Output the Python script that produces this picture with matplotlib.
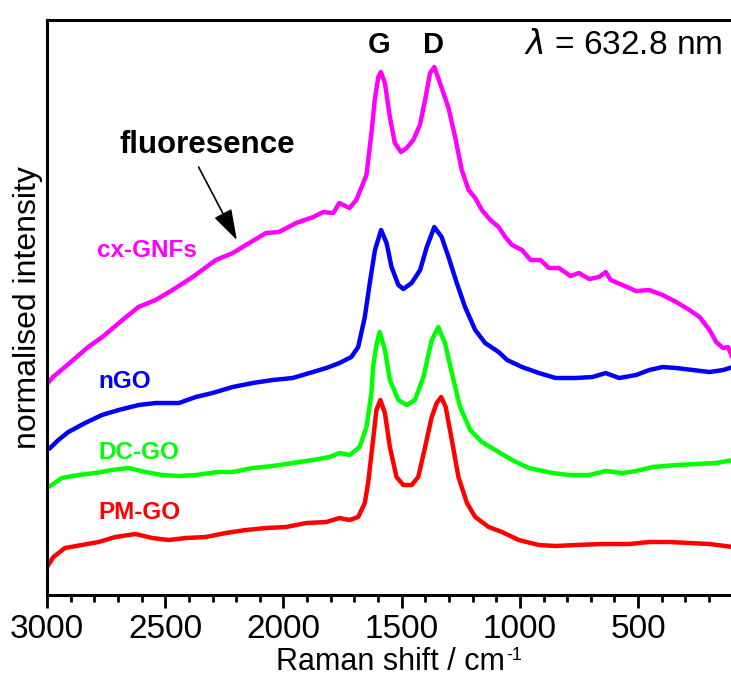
import matplotlib.pyplot as plt

plt.rcParams['font.family'] = ['Liberation Sans', 'DejaVu Sans']

# Raman spectra (wavenumber / cm-1, stacked intensity in plot units)
cx_shift = [2996, 2975, 2924, 2826, 2766, 2681, 2613, 2541, 2469, 2384, 2286, 2214,
            2159, 2074, 2019, 1947, 1874, 1832, 1789, 1764, 1721, 1692, 1649, 1628,
            1614, 1599, 1588, 1571, 1550, 1529, 1503, 1479, 1451, 1423, 1401, 1380,
            1362, 1338, 1302, 1274, 1246, 1217, 1189, 1161, 1125, 1090, 1062, 1033,
            991, 955, 913, 877, 835, 786, 750, 707, 665, 637, 616, 566, 509, 453, 396,
            339, 283, 240, 198, 170, 141, 120, 102]
cx_int = [212, 218, 228, 248, 258, 275, 288, 295, 305, 318, 335, 342,
          350, 362, 363, 372, 378, 383, 382, 392, 387, 395, 420, 462,
          495, 518, 523, 512, 478, 452, 443, 447, 455, 470, 495, 522,
          528, 512, 487, 458, 425, 405, 397, 385, 375, 368, 358, 350,
          345, 335, 335, 327, 327, 319, 322, 316, 318, 323, 315, 310, 304, 305, 300,
          293, 285, 278, 265, 253, 247, 248, 238]

ngo_shift = [2987, 2952, 2910, 2839, 2768, 2697, 2612, 2541, 2442, 2371, 2300, 2215,
             2130, 2046, 1961, 1890, 1819, 1763, 1713, 1684, 1656, 1635, 1613, 1587,
             1564, 1543, 1514, 1493, 1458, 1422, 1394, 1362, 1331, 1302, 1267, 1232,
             1189, 1147, 1090, 1054, 991, 920, 849, 764, 693, 637, 580, 509, 453, 396,
             339, 269, 198, 141, 99]
ngo_int = [147, 155, 163, 172, 180, 185, 190, 192, 192, 198, 202, 208,
           212, 215, 217, 222, 227, 232, 238, 248, 278, 312, 345, 365,
           352, 328, 310, 306, 312, 325, 348, 368, 358, 338, 312, 288,
           265, 252, 243, 235, 228, 222, 217, 217, 218, 222, 217, 220, 225, 228,
           227, 225, 223, 225, 228]

dc_shift = [3000, 2980, 2938, 2867, 2796, 2725, 2655, 2584, 2513, 2442, 2371, 2279,
            2215, 2130, 2046, 1961, 1876, 1805, 1763, 1720, 1678, 1649, 1628, 1621,
            1607, 1593, 1571, 1550, 1514, 1479, 1444, 1408, 1373, 1345, 1317, 1288,
            1253, 1210, 1161, 1090, 1033, 962, 863, 792, 707, 637, 566, 509, 438,
            339, 255, 170, 99]
dc_int = [107, 110, 117, 120, 122, 125, 127, 123, 120, 119, 120, 123,
          123, 127, 129, 132, 135, 138, 142, 140, 148, 168, 202, 228,
          250, 263, 245, 215, 195, 190, 195, 218, 255, 268, 252, 222,
          188, 165, 153, 143, 135, 127, 122, 120, 120, 124, 122, 124, 128,
          130, 131, 132, 135]

pm_shift = [3000, 2973, 2924, 2853, 2782, 2711, 2626, 2555, 2485, 2414, 2329, 2244,
            2159, 2074, 1989, 1904, 1819, 1763, 1720, 1684, 1656, 1642, 1621, 1607,
            1590, 1571, 1550, 1522, 1493, 1458, 1430, 1401, 1373, 1352, 1333, 1314,
            1288, 1260, 1224, 1189, 1132, 1076, 1005, 920, 849, 764, 651, 537, 453,
            368, 283, 198, 99]
pm_int = [28, 38, 47, 50, 53, 58, 61, 57, 55, 57, 58, 62,
          65, 67, 68, 72, 73, 77, 75, 78, 92, 112, 155, 185,
          195, 182, 148, 118, 110, 110, 118, 148, 178, 192, 198, 188,
          155, 118, 92, 78, 68, 63, 55, 50, 49, 50, 51, 51, 53,
          53, 52, 51, 48]

fig = plt.figure(figsize=(7.31, 6.79), dpi=100)
ax = fig.add_axes([0.0643, 0.1237, 0.94, 0.8468])

lw = 3.2
ax.plot(cx_shift, cx_int, color='#ff00ff', lw=lw)
ax.plot(ngo_shift, ngo_int, color='#0000ff', lw=lw)
ax.plot(dc_shift, dc_int, color='#00ff00', lw=lw)
ax.plot(pm_shift, pm_int, color='#ff0000', lw=lw)

ax.set_xlim(3000, 94)
ax.set_ylim(0, 575)
ax.set_yticks([])
ax.set_xticks([3000, 2500, 2000, 1500, 1000, 500])
ax.set_xticks(range(3000, 0, -100), minor=True)
ax.tick_params(axis='x', which='major', direction='out', length=9, width=2, labelsize=24, pad=5)
ax.tick_params(axis='x', which='minor', direction='out', length=5, width=2)
for s in ax.spines.values():
    s.set_linewidth(2.2)

# x label with a plain hyphen superscript
ax.set_xlabel('Raman shift / cm', fontsize=22, labelpad=1)
ax.annotate('-1', xy=(1, 1), xycoords=ax.xaxis.label, xytext=(1, 0),
            textcoords='offset points', fontsize=13, ha='left', va='top')
ax.set_ylabel('normalised intensity', fontsize=23, labelpad=3)

# sample labels
lab = dict(fontsize=17.5, fontweight='bold', va='center', ha='left')
ax.text(2788, 345, 'cx-GNFs', color='#ff00ff', **lab)
ax.text(2783, 214, 'nGO', color='#0000ff', **lab)
ax.text(2783, 143, 'DC-GO', color='#00ff00', **lab)
ax.text(2783, 83, 'PM-GO', color='#ff0000', **lab)

ax.text(1594, 550, 'G', fontsize=21, fontweight='bold', ha='center', va='center')
ax.text(1365, 550, 'D', fontsize=21, fontweight='bold', ha='center', va='center')
ax.text(982, 550, r'$\lambda$ = 632.8 nm', fontsize=24, ha='left', va='center')

ax.text(2320, 450, 'fluoresence', fontsize=22.5, fontweight='bold', ha='center', va='center')
ax.annotate('', xy=(2197, 355), xytext=(2359, 428),
            arrowprops=dict(arrowstyle='-|>,head_length=1.9,head_width=0.6',
                            mutation_scale=10, color='black', lw=1.2,
                            shrinkA=0, shrinkB=0))

fig.savefig('out.png', dpi=100)
